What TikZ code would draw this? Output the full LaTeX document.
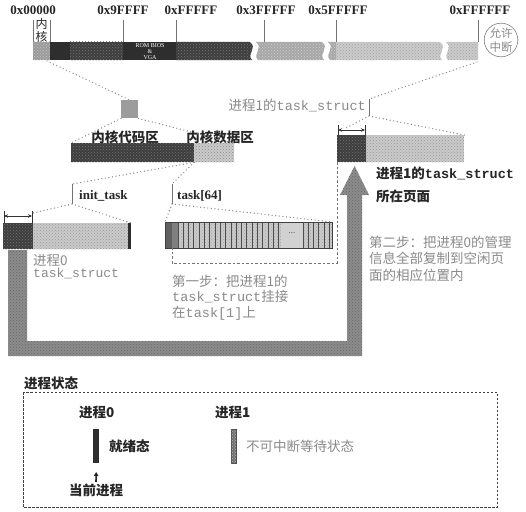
\documentclass[tikz,border=0pt]{standalone}
\usepackage{fontspec}
\setmainfont{Liberation Serif}
\setmonofont{Liberation Mono}
\newfontfamily\cjk{Noto Sans CJK SC}
\usetikzlibrary{patterns,arrows.meta}
\definecolor{dk}{HTML}{2E2E2E}
\definecolor{dkh}{HTML}{3E3E3E}
\definecolor{md}{HTML}{A8A8A8}
\definecolor{lt}{HTML}{CACACA}
\definecolor{kn}{HTML}{9C9C9C}
\definecolor{txtg}{HTML}{8A8A8A}
\definecolor{band}{HTML}{8C8C8C}
\begin{document}
\begin{tikzpicture}[x=1pt,y=-1pt,
  addr/.style={font=\fontsize{13}{15}\selectfont\bfseries, text=black!85, inner sep=0},
  lbl/.style={font=\fontsize{13.5}{16}\selectfont\bfseries\cjk, text=black!85, inner sep=0},
  lblser/.style={font=\fontsize{13}{15}\selectfont\bfseries, text=black!85, inner sep=0},
  note/.style={font=\fontsize{13.5}{16}\selectfont\cjk, text=txtg, inner sep=0},
  tick/.style={draw=black!55, line width=0.6pt},
  dots/.style={draw=black!45, line width=1.4pt, dash pattern=on 0pt off 3.6pt, line cap=round},
  dashln/.style={draw=black!55, line width=0.7pt, dash pattern=on 2.5pt off 2pt},
  hatch/.style 2 args={fill=#1, postaction={pattern=crosshatch dots, pattern color=#2}},
  blk/.style={inner sep=0, anchor=north west},
  dimln/.style={draw=black!80, line width=0.6pt,
     {Stealth[length=4pt,width=3.5pt]}-{Stealth[length=4pt,width=3.5pt]}},
]
\useasboundingbox[fill=white] (0,0) rectangle (526,511);

% ---------- physical memory map ----------
\foreach \x in {33,50,123,176,264,336,478} \draw[tick] (\x,20) -- (\x,42);
\node[addr] (a0) at (33,10) {0x00000};
\node[addr] (a1) at (123,10) {0x9FFFF};
\node[addr] (a2) at (191,10) {0xFFFFF};
\node[addr] (a3) at (266,10) {0x3FFFFF};
\node[addr] (a4) at (338,10) {0x5FFFFF};
\node[addr] (a5) at (480,10) {0xFFFFFF};
\node[lbl, font=\fontsize{12}{14}\selectfont\cjk] (kn1) at (41.5,24) {内};
\node[lbl, font=\fontsize{12}{14}\selectfont\cjk] (kn2) at (41.5,37) {核};

\path[hatch={kn}{black!25}] (33,42) rectangle (50,60);
\fill[dk] (50,42) rectangle (70,60);
\path[hatch={dkh}{black!55}] (70,42) rectangle (123,60);
\fill[dk] (123,42) rectangle (176,60);
\node[inner sep=0, text=white, align=center,
      font=\fontsize{6}{6}\selectfont] (rom) at (150,52) {ROM BIOS\\\&\\VGA};
\path[hatch={dkh}{black!55}] (176,42) -- (250,42)
   .. controls (258,48) and (246,54) .. (252,60) -- (176,60) -- cycle;
\path[hatch={md}{black!20}] (256,42) .. controls (264,48) and (252,54) .. (258,60)
   -- (324,60) .. controls (318,54) and (330,48) .. (322,42) -- cycle;
\path[hatch={md}{black!20}] (328,42) .. controls (336,48) and (324,54) .. (330,60)
   -- (336,60) -- (336,42) -- cycle;
\path[hatch={lt}{black!35}] (336,42) -- (440,42)
   .. controls (448,48) and (436,54) .. (442,60) -- (336,60) -- cycle;
\path[hatch={lt}{black!35}] (446,42) .. controls (454,48) and (442,54) .. (448,60)
   -- (478,60) -- (478,42) -- cycle;

\node[circle, draw=black!50, line width=0.6pt, minimum size=33pt, inner sep=0,
      align=center, text=txtg, font=\fontsize{11.5}{14}\selectfont\cjk] (irq) at (501,40) {允许\\中断};

% ---------- kernel detail ----------
\coordinate (kst) at (47,61);
\node[blk, fill=kn, minimum width=17pt, minimum height=18pt] (sq) at (121,100) {};
\draw[dots] (kst) -- (sq.north);

\node[lbl] (kcl) at (125,137) {内核代码区};
\node[lbl] (kdl) at (220,137) {内核数据区};
\node[blk, hatch={dkh}{black!55}, minimum width=123pt, minimum height=19pt] (kc) at (71,143) {};
\node[blk, hatch={lt}{black!45}, minimum width=40pt, minimum height=19pt] (kd) at (194,143) {};
\draw[dots] (sq.south west) -- (kc.north west);
\draw[dots] (sq.south east) -- (kd.north east);

% ---------- init_task and task[64] ----------
\coordinate (itT) at (72,184); \coordinate (itB) at (72,204);
\coordinate (tkT) at (172,184); \coordinate (tkB) at (172,204);
\draw[tick] (itT) -- (itB);
\draw[tick] (tkT) -- (tkB);
\draw[dots] (kd.south west) -- (itT);
\draw[dots] (kd.south west) -- (tkT);
\node[lblser, anchor=west] (itl) at (79,196) {init\_task};
\node[lblser, anchor=west] (tkl) at (177,196) {task[64]};

% process 0 page
\node[blk, hatch={dkh}{black!55}, minimum width=30pt, minimum height=26pt] (p0d) at (3,223) {};
\node[blk, hatch={lt}{black!40}, minimum width=95pt, minimum height=26pt] (p0l) at (33,223) {};
\node[blk, fill=dk, minimum width=3pt, minimum height=26pt] (p0e) at (128,223) {};
\draw[black!80, line width=0.6pt] (4,211) -- (4,223) (32,211) -- (32,223);
\draw[dimln] (4,216) -- (32,216);
\coordinate (p0bk) at (33,213);
\draw[dots] (itB) -- (p0bk);
\draw[dots] (itB) -- (p0e.north east);

\node[note, anchor=west] (p0n1) at (33,260) {进程0};
\node[note, anchor=west, font=\fontsize{13}{15}\selectfont\ttfamily] (p0n2) at (33,273) {task\_struct};

% task[64] vector
\node[blk, hatch={lt}{black!35}, minimum width=167pt, minimum height=26pt] (tb) at (165,222) {};
\fill[black!62] (165,222) rectangle (172,248);
\fill[black!50] (172,222) rectangle (178,248);
\foreach \i in {0,...,19} \draw[black!70, line width=0.9pt] ({178+\i*5.3},222) -- ++(0,26);
\fill[black!18] (281,222) rectangle (303,248);
\node[inner sep=0, text=black!70, font=\fontsize{9}{9}\selectfont] (ell) at (292,233) {...};
\foreach \i in {0,...,5} \draw[black!70, line width=0.9pt] ({303+\i*5.3},222) -- ++(0,26);
\draw[black!75, line width=0.8pt] (tb.north west) rectangle (tb.south east);
\draw[dots] (tkB) -- (tb.north west);
\draw[dots] (tkB) -- (tb.north east);

% ---------- process 1 page ----------
\node[note, anchor=east, font=\fontsize{13.5}{16}\selectfont] (p1t) at (366,106)
   {{\cjk 进程1的}\ttfamily task\_struct};
\coordinate (pbT) at (369,99); \coordinate (pbB) at (369,116);
\draw[tick] (pbT) -- (pbB);
\coordinate (mEnd) at (477,62);
\draw[dots] (mEnd) -- (pbT);

\node[blk, hatch={dkh}{black!55}, minimum width=29pt, minimum height=27pt] (p1d) at (337,135) {};
\node[blk, hatch={lt}{black!40}, minimum width=98pt, minimum height=27pt] (p1l) at (366,135) {};
\draw[black!80, line width=0.6pt] (338,125) -- (338,135) (365,125) -- (365,135);
\draw[dimln] (338,130) -- (365,130);
\coordinate (p1bk) at (346,128);
\draw[dots] (pbB) -- (p1bk);
\draw[dots] (pbB) -- (p1l.north east);

\node[lbl, anchor=west] (p1a) at (376,173) {进程1的{\ttfamily\bfseries task\_struct}};
\node[lbl, anchor=west] (p1b) at (376,196) {所在页面};

% copy path: process 0 -> process 1 page
\path[hatch={band}{black!60}] (8,250) -- (27,250) -- (27,341) -- (347,341) -- (347,195)
   -- (340,195) -- (354.5,166) -- (369,195) -- (362,195) -- (362,356) -- (8,356) -- cycle;

% task[1] link
\coordinate (lk1) at (337,263); \coordinate (lk2) at (172,263); \coordinate (lk3) at (172,248);
\draw[dashln] (p1d.south west) -- (lk1) -- (lk2) -- (lk3);

% step notes
\node[note, anchor=west] (s1a) at (172,281) {第一步：把进程1的};
\node[note, anchor=west] (s1b) at (172,297) {{\ttfamily task\_struct}挂接};
\node[note, anchor=west] (s1c) at (172,313) {在{\ttfamily task[1]}上};
\node[note, anchor=west] (s2a) at (369,242) {第二步：把进程0的管理};
\node[note, anchor=west] (s2b) at (369,258) {信息全部复制到空闲页};
\node[note, anchor=west] (s2c) at (369,275) {面的相应位置内};

% ---------- process states ----------
\node[lbl, anchor=west] (pst) at (24,383) {进程状态};
\draw[draw=black!75, line width=0.7pt, dash pattern=on 2.5pt off 1.5pt] (23,392) rectangle (497,507);
\node[lbl, anchor=west] (s0) at (79,412) {进程0};
\node[blk, fill=dk, minimum width=6pt, minimum height=34pt] (b0) at (93,429) {};
\node[lbl, anchor=west] (r0) at (109,446) {就绪态};
\coordinate (cur) at (96,482);
\draw[line width=1.6pt, black!85, -{Triangle[length=4pt,width=4.5pt]}] (cur) -- (b0.south |- 0,472);
\node[lbl, anchor=west] (cp) at (69,490) {当前进程};
\node[lbl, anchor=west] (s1) at (215,412) {进程1};
\node[blk, hatch={black!55}{black!30}, draw=black!70, line width=0.4pt, minimum width=5pt, minimum height=34pt] (b1) at (231,429) {};
\node[note, anchor=west] (w1) at (246,446) {不可中断等待状态};
\end{tikzpicture}
\end{document}
